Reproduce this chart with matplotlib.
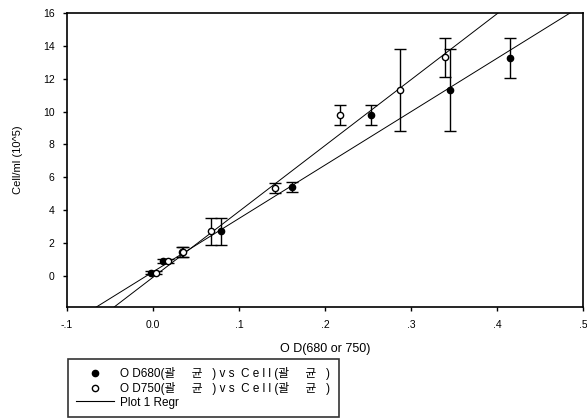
import matplotlib as mpl
mpl.use('Agg')
import matplotlib.pyplot as plt
import numpy as np
from matplotlib.lines import Line2D

plt.rcParams['font.family'] = ['Liberation Sans', 'Noto Sans CJK KR', 'DejaVu Sans']

# OD680 (filled)
od680_x = [-0.002, 0.012, 0.034, 0.079, 0.162, 0.254, 0.345, 0.415]
od680_y = [0.2, 0.9, 1.45, 2.7, 5.4, 9.8, 11.3, 13.25]
od680_err = [0.12, 0.12, 0.3, 0.8, 0.3, 0.6, 2.5, 1.2]

# OD750 (open)
od750_x = [0.004, 0.018, 0.035, 0.068, 0.142, 0.217, 0.287, 0.339]
od750_y = [0.2, 0.9, 1.45, 2.7, 5.35, 9.8, 11.3, 13.3]
od750_err = [0.12, 0.12, 0.3, 0.8, 0.3, 0.6, 2.5, 1.2]

# regression lines (slope, intercept)
regr680 = (32.5, 0.24)
regr750 = (40.1, -0.09)

xticks = [-0.1, 0.0, 0.1, 0.2, 0.3, 0.4, 0.5]
xticklabels = ['-.1', '0.0', '.1', '.2', '.3', '.4', '.5']
yticks = [0, 2, 4, 6, 8, 10, 12, 14, 16]

fig = plt.figure(figsize=(5.87, 4.18), dpi=100)
ax = fig.add_axes([67 / 587, 1 - 307 / 418, (583 - 67) / 587, (307 - 13) / 418])

xx = np.array([-0.1, 0.5])
for m, b in (regr680, regr750):
    ax.plot(xx, m * xx + b, color='black', lw=0.7, zorder=1)

ax.errorbar(od680_x, od680_y, yerr=od680_err, fmt='o', ms=4.5, mfc='black', mec='black',
            ecolor='black', elinewidth=1, capsize=4, capthick=1, zorder=2)
ax.errorbar(od750_x, od750_y, yerr=od750_err, fmt='o', ms=4.5, mfc='white', mec='black',
            ecolor='black', elinewidth=1, capsize=4, capthick=1, zorder=3)

ax.set_xlim(-0.1, 0.5)
ax.set_ylim(-1.9, 16)
ax.set_xticks(xticks)
ax.set_xticklabels(xticklabels)
ax.set_yticks(yticks)
ax.tick_params(direction='out', length=3, width=1, labelsize=7.5, pad=6)
for s in ax.spines.values():
    s.set_linewidth(1.2)

ax.set_xlabel('O D(680 or 750)', fontsize=9, labelpad=10)
ax.set_ylabel('Cell/ml (10^5)', fontsize=8, labelpad=14)

handles = [
    Line2D([], [], ls='none', marker='o', ms=4.5, mfc='black', mec='black'),
    Line2D([], [], ls='none', marker='o', ms=4.5, mfc='white', mec='black'),
    Line2D([], [], color='black', lw=0.8),
]
labels = ['O D680(괄     균   ) v s  C e l l (괄     균   )',
          'O D750(괄     균   ) v s  C e l l (괄     균   )',
          'Plot 1 Regr']
leg = fig.legend(handles, labels, loc='lower left', bbox_to_anchor=(67 / 587, 0.0),
                 fontsize=8.5, frameon=True, fancybox=False, edgecolor='black',
                 borderpad=0.7, labelspacing=0.15, handlelength=3.2, handletextpad=0.5,
                 borderaxespad=0.1)
leg.get_frame().set_linewidth(1.2)

fig.savefig('out.png', dpi=100)
